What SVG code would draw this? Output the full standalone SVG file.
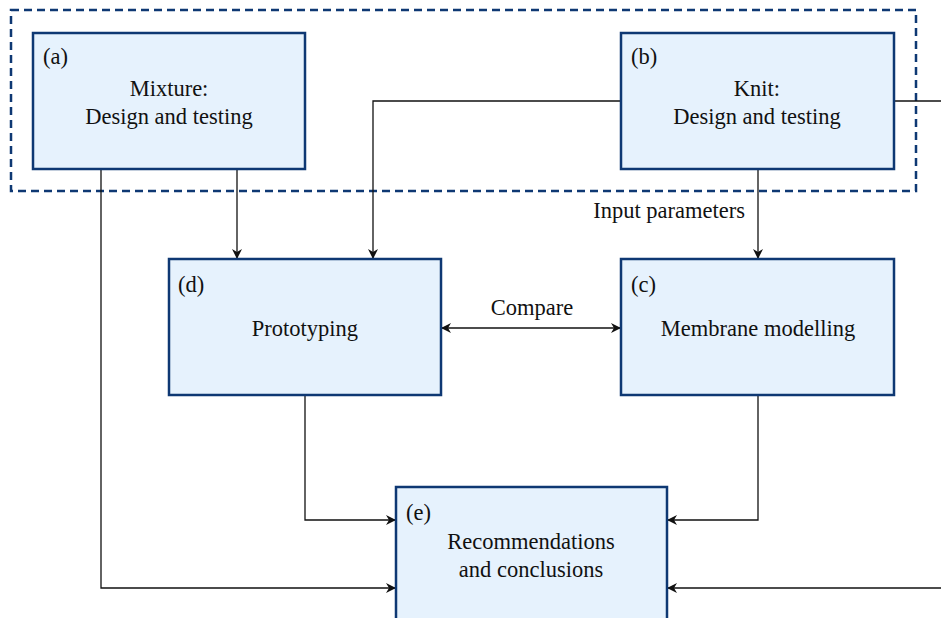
<svg xmlns="http://www.w3.org/2000/svg" width="941" height="618" viewBox="0 0 941 618">
<style>
.box{fill:#e6f2fd;stroke:#0e3873;stroke-width:2.5}
.c{fill:none;stroke:#111;stroke-width:1.3}
</style>
<defs>
<marker id="ah" viewBox="0 0 10 10" refX="10" refY="5" markerWidth="10" markerHeight="10" markerUnits="userSpaceOnUse" orient="auto-start-reverse">
<path d="M0,0 L10,5 L0,10 L3,5 Z" fill="#111"/>
</marker>
</defs>
<rect x="11" y="10" width="905" height="181" fill="none" stroke="#0e3873" stroke-width="2.5" stroke-dasharray="8,5"/>
<g id="connectors">
<path class="c" d="M237,169 V259" marker-end="url(#ah)"/>
<path class="c" d="M621,101 H373 V259" marker-end="url(#ah)"/>
<path class="c" d="M894,101 H941"/>
<path class="c" d="M758,169 V259" marker-end="url(#ah)"/>
<path class="c" d="M441,328 H621" marker-start="url(#ah)" marker-end="url(#ah)"/>
<path class="c" d="M305,395 V520 H396" marker-end="url(#ah)"/>
<path class="c" d="M758,395 V520 H667" marker-end="url(#ah)"/>
<path class="c" d="M101,169 V588 H396" marker-end="url(#ah)"/>
<path class="c" d="M941,588 H667" marker-end="url(#ah)"/>
<rect x="588" y="200" width="158" height="25" fill="#fff"/>
<text x="745" y="218" text-anchor="end" fill="#111" style="font-family:'Liberation Serif',serif;font-size:22.5px">Input parameters</text>
<text x="532" y="315" text-anchor="middle" fill="#111" style="font-family:'Liberation Serif',serif;font-size:22.5px">Compare</text>
</g>
<g id="a">
<rect class="box" x="33" y="33" width="272" height="136"/>
<text x="43" y="64" fill="#111" style="font-family:'Liberation Serif',serif;font-size:22.5px">(a)</text>
<text x="169" y="96" text-anchor="middle" fill="#111" style="font-family:'Liberation Serif',serif;font-size:22.5px">Mixture:</text>
<text x="169" y="124" text-anchor="middle" fill="#111" style="font-family:'Liberation Serif',serif;font-size:22.5px">Design and testing</text>
</g>
<g id="b">
<rect class="box" x="621" y="33" width="273" height="136"/>
<text x="631" y="64" fill="#111" style="font-family:'Liberation Serif',serif;font-size:22.5px">(b)</text>
<text x="757" y="96" text-anchor="middle" fill="#111" style="font-family:'Liberation Serif',serif;font-size:22.5px">Knit:</text>
<text x="757" y="124" text-anchor="middle" fill="#111" style="font-family:'Liberation Serif',serif;font-size:22.5px">Design and testing</text>
</g>
<g id="d">
<rect class="box" x="169" y="259" width="272" height="136"/>
<text x="178" y="292" fill="#111" style="font-family:'Liberation Serif',serif;font-size:22.5px">(d)</text>
<text x="305" y="336" text-anchor="middle" fill="#111" style="font-family:'Liberation Serif',serif;font-size:22.5px">Prototyping</text>
</g>
<g id="c">
<rect class="box" x="621" y="259" width="273" height="136"/>
<text x="631" y="292" fill="#111" style="font-family:'Liberation Serif',serif;font-size:22.5px">(c)</text>
<text x="758" y="336" text-anchor="middle" fill="#111" style="font-family:'Liberation Serif',serif;font-size:22.5px">Membrane modelling</text>
</g>
<g id="e">
<rect class="box" x="396" y="487" width="271" height="140"/>
<text x="406" y="520" fill="#111" style="font-family:'Liberation Serif',serif;font-size:22.5px">(e)</text>
<text x="531" y="549" text-anchor="middle" fill="#111" style="font-family:'Liberation Serif',serif;font-size:22.5px">Recommendations</text>
<text x="531" y="577" text-anchor="middle" fill="#111" style="font-family:'Liberation Serif',serif;font-size:22.5px">and conclusions</text>
</g>
</svg>
